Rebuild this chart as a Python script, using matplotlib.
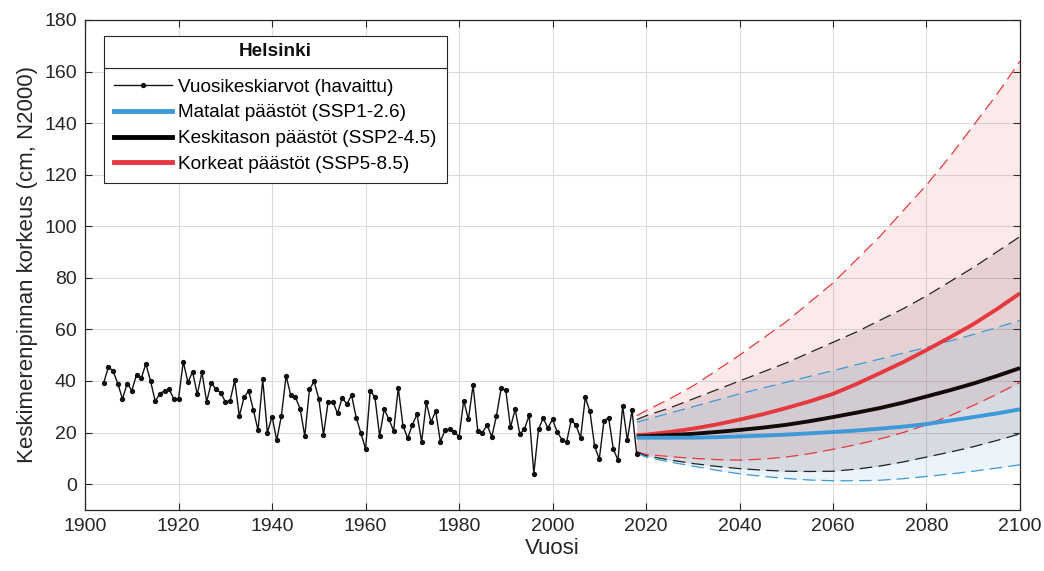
import matplotlib
matplotlib.use("Agg")
import matplotlib.pyplot as plt
from matplotlib.lines import Line2D
from matplotlib.patches import Rectangle
import numpy as np

plt.rcParams['font.family'] = ['Liberation Sans', 'DejaVu Sans']

# Observed annual means 1904-2018
obs_years = list(range(1904, 2019))
obs_values = [
    39.4, 45.5, 43.8, 39.0, 33.0, 39.0, 36.3, 42.4, 41.0, 46.6,
    40.0, 32.2, 35.1, 36.2, 36.7, 33.0, 33.2, 47.5, 39.5, 43.5,
    34.8, 43.4, 31.9, 39.3, 36.8, 35.5, 32.0, 32.2, 40.2, 26.4,
    33.6, 36.2, 28.7, 20.9, 40.6, 20.0, 26.2, 17.0, 26.6, 41.9,
    34.5, 33.6, 29.3, 18.6, 36.7, 39.8, 33.1, 19.1, 32.0, 32.0,
    27.4, 33.5, 31.0, 34.5, 25.8, 19.8, 13.6, 36.2, 33.7, 18.7,
    29.0, 25.1, 20.7, 37.3, 22.7, 17.8, 22.9, 27.1, 16.4, 31.7,
    24.0, 28.4, 16.4, 20.9, 21.4, 20.3, 18.3, 32.4, 25.1, 38.4,
    20.7, 20.0, 22.9, 18.3, 26.5, 37.1, 36.4, 22.0, 29.0, 19.4,
    21.4, 26.7, 4.1, 21.3, 25.6, 21.8, 25.1, 20.2, 17.3, 16.3,
    24.8, 23.0, 17.9, 33.6, 28.2, 14.7, 9.7, 24.5, 25.8, 13.6,
    9.3, 30.2, 17.0, 28.7, 11.6,
]

# Projections
proj_years = [2018, 2020, 2025, 2030, 2035, 2040, 2045, 2050, 2055, 2060,
              2065, 2070, 2075, 2080, 2085, 2090, 2095, 2100]
ssp126_med = [18.0, 18.0, 18.0, 18.0, 18.2, 18.5, 18.8, 19.2, 19.7, 20.2,
              20.8, 21.5, 22.3, 23.3, 24.6, 26.0, 27.4, 29.0]
ssp126_lo = [12.0, 10.5, 8.6, 7.0, 5.4, 4.0, 3.0, 2.2, 1.6, 1.3,
             1.3, 1.5, 2.1, 3.0, 3.9, 5.0, 6.2, 7.5]
ssp126_hi = [24.0, 25.0, 27.5, 30.0, 32.5, 35.0, 37.3, 39.5, 41.8, 44.0,
             46.3, 48.5, 50.8, 53.0, 55.5, 58.0, 60.7, 63.5]
ssp245_med = [18.5, 18.6, 19.0, 19.5, 20.2, 21.0, 21.9, 23.0, 24.4, 26.0,
              27.7, 29.5, 31.6, 34.0, 36.4, 39.0, 41.9, 45.0]
ssp245_lo = [12.5, 11.0, 9.4, 8.0, 6.9, 6.0, 5.4, 5.0, 4.9, 5.0,
             5.8, 7.0, 8.6, 10.5, 12.4, 14.5, 16.9, 19.5]
ssp245_hi = [25.0, 26.5, 29.5, 33.0, 36.5, 40.0, 43.5, 47.0, 51.0, 55.0,
             59.0, 63.5, 68.0, 73.0, 78.5, 84.0, 90.0, 96.0]
ssp585_med = [19.0, 19.2, 20.2, 21.5, 23.1, 25.0, 27.1, 29.5, 32.1, 35.0,
              38.8, 43.0, 47.3, 52.0, 56.9, 62.0, 67.8, 74.0]
ssp585_lo = [12.5, 11.5, 10.7, 10.0, 9.5, 9.3, 9.7, 10.5, 11.8, 13.5,
             15.3, 17.5, 20.0, 23.0, 26.5, 30.5, 34.8, 39.5]
ssp585_hi = [26.5, 28.5, 33.0, 38.0, 44.0, 50.0, 56.5, 63.0, 70.5, 78.0,
             87.0, 96.0, 106.0, 116.0, 127.0, 139.0, 151.0, 164.0]

labels = ["Vuosikeskiarvot (havaittu)", "Matalat päästöt (SSP1-2.6)",
          "Keskitason päästöt (SSP2-4.5)", "Korkeat päästöt (SSP5-8.5)"]
title = "Helsinki"

c_blue = '#3d9ad8'
c_red = '#e5393f'
c_ax = '#262626'

fig = plt.figure(figsize=(10.44, 5.71), dpi=100)
ax = fig.add_axes([0.0815, 0.107, 0.8955, 0.858])

# bands
ax.fill_between(proj_years, ssp585_lo, ssp585_hi, color=c_red, alpha=0.1, lw=0)
ax.fill_between(proj_years, ssp245_lo, ssp245_hi, color='#402020', alpha=0.12, lw=0)
ax.fill_between(proj_years, ssp126_lo, ssp126_hi, color=c_blue, alpha=0.1, lw=0)

dash = (0, (10, 5))
for lo, hi, c in [(ssp585_lo, ssp585_hi, c_red), (ssp245_lo, ssp245_hi, '#222222'),
                  (ssp126_lo, ssp126_hi, c_blue)]:
    ax.plot(proj_years, lo, color=c, lw=0.9, linestyle=dash)
    ax.plot(proj_years, hi, color=c, lw=0.9, linestyle=dash)

ax.plot(proj_years, ssp585_med, color=c_red, lw=2.8, solid_capstyle='butt')
ax.plot(proj_years, ssp245_med, color='#150a0a', lw=2.8, solid_capstyle='butt')
ax.plot(proj_years, ssp126_med, color=c_blue, lw=2.8, solid_capstyle='butt')

ax.plot(obs_years, obs_values, color='#111111', lw=1.0, marker='o', ms=2.8)

ax.set_xlim(1900, 2100)
ax.set_ylim(-10, 180)
ax.set_xticks(range(1900, 2101, 20))
ax.set_yticks(range(0, 181, 20))
ax.grid(True, color='#dcdcdc', lw=0.8)
ax.set_axisbelow(True)
ax.tick_params(direction='in', top=True, right=True, labelsize=14, colors=c_ax,
               length=5, pad=6)
for s in ax.spines.values():
    s.set_color(c_ax)
    s.set_linewidth(0.9)
ax.set_xlabel('Vuosi', fontsize=16, color=c_ax, labelpad=2)
ax.set_ylabel('Keskimerenpinnan korkeus (cm, N2000)', fontsize=16, color=c_ax, labelpad=4)

handles = [
    Line2D([], [], color='#111111', lw=1.0, marker='o', ms=2.8),
    Line2D([], [], color=c_blue, lw=3.5),
    Line2D([], [], color='#000000', lw=3.5),
    Line2D([], [], color=c_red, lw=3.5),
]
# legend entries box: top-left at pixel (104, 68 from top)
leg = fig.legend(handles, labels, loc='upper left',
                 bbox_to_anchor=(104 / 1044, 1 - 68 / 571),
                 fontsize=13.7, frameon=True, fancybox=False, edgecolor=c_ax, framealpha=1,
                 handlelength=3.0, handletextpad=0.35, labelspacing=0.44, borderpad=0.55,
                 borderaxespad=0)
leg.get_frame().set_linewidth(0.8)

fig.canvas.draw()
r = fig.canvas.get_renderer()
bb = leg.get_window_extent(r)
inv = fig.transFigure.inverted()
top_px = 571 - 36
(x0f, y0f) = inv.transform((bb.x0, bb.y1))
(x1f, y1f) = inv.transform((bb.x1, top_px))
fig.add_artist(Rectangle((x0f, y0f), x1f - x0f, y1f - y0f, transform=fig.transFigure,
                         facecolor='white', edgecolor=c_ax, lw=0.8, zorder=10))
fig.text((x0f + x1f) / 2, (y0f + y1f) / 2, title, ha='center', va='center',
         fontsize=13.7, fontweight='bold', color='#111111', zorder=11)

fig.savefig('out.png', dpi=100)
